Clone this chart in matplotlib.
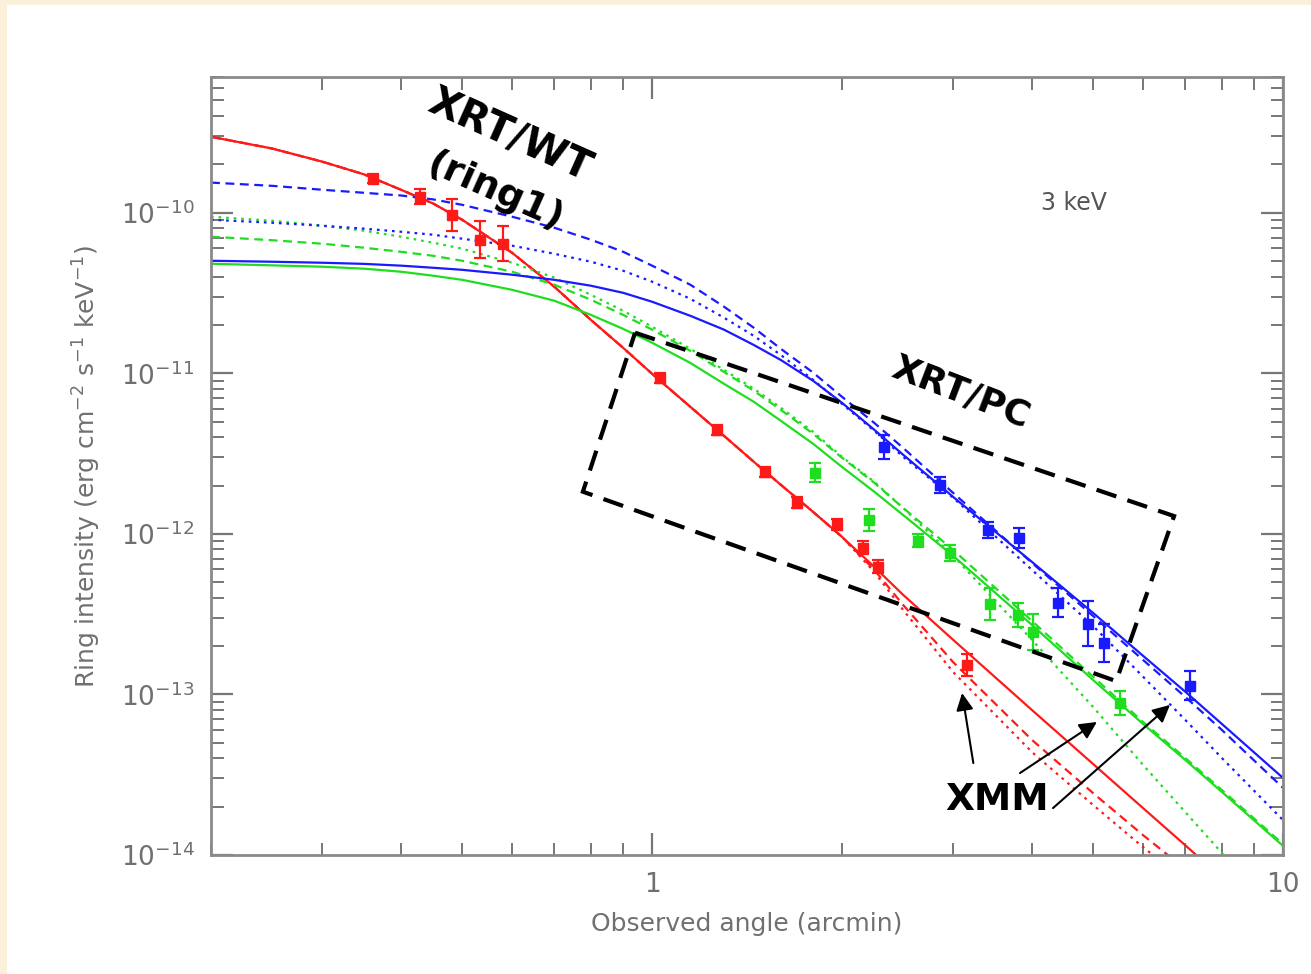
import numpy as np
import matplotlib
matplotlib.use('Agg')
import matplotlib.pyplot as plt
from matplotlib.patches import Polygon, Rectangle
from matplotlib.ticker import LogLocator, NullFormatter, FixedLocator, FixedFormatter

RED = '#ff1a1a'; GREEN = '#1fdd1f'; BLUE = '#1a1aff'
GRAY = '#707070'

# ── model curves ────────────────────────────────────────────────────────────
theta = [0.2, 0.25, 0.3, 0.35, 0.4, 0.45, 0.5, 0.6, 0.7, 0.8, 0.9, 1.0, 1.15,
         1.3, 1.45, 1.6, 1.8, 2.0, 2.25, 2.5, 3.0, 4.0, 5.0, 6.0, 7.0, 8.0, 10.0]

red_solid = [2.97e-10, 2.51e-10, 2.08e-10, 1.73e-10, 1.39e-10, 1.14e-10, 9.04e-11,
             5.63e-11, 3.46e-11, 2.15e-11, 1.44e-11, 9.93e-12, 6.18e-12, 4.08e-12,
             2.81e-12, 2.02e-12, 1.37e-12, 9.58e-13, 6.23e-13, 4.17e-13, 2.19e-13,
             8.0e-14, 3.69e-14, 1.96e-14, 1.15e-14, 7.2e-15, 3.3e-15]
red_dash = [2.97e-10, 2.51e-10, 2.08e-10, 1.73e-10, 1.39e-10, 1.14e-10, 9.04e-11,
            5.63e-11, 3.46e-11, 2.15e-11, 1.44e-11, 9.93e-12, 6.18e-12, 4.08e-12,
            2.81e-12, 2.02e-12, 1.37e-12, 9.58e-13, 5.97e-13, 3.61e-13, 1.59e-13,
            5.21e-14, 2.43e-14, 1.33e-14, 8.18e-15, 5.17e-15, 2.38e-15]
red_dot = [2.97e-10, 2.51e-10, 2.08e-10, 1.73e-10, 1.39e-10, 1.14e-10, 9.04e-11,
           5.63e-11, 3.46e-11, 2.15e-11, 1.44e-11, 9.93e-12, 6.18e-12, 4.08e-12,
           2.81e-12, 2.02e-12, 1.37e-12, 9.58e-13, 5.80e-13, 3.36e-13, 1.38e-13,
           4.38e-14, 2.05e-14, 1.12e-14, 6.89e-15, 4.35e-15, 2.0e-15]

blue_solid = [5.02e-11, 4.95e-11, 4.88e-11, 4.80e-11, 4.68e-11, 4.54e-11, 4.41e-11,
              4.11e-11, 3.82e-11, 3.51e-11, 3.17e-11, 2.79e-11, 2.28e-11, 1.87e-11,
              1.50e-11, 1.21e-11, 8.98e-12, 6.55e-12, 4.45e-12, 3.11e-12, 1.70e-12,
              6.69e-13, 3.22e-13, 1.74e-13, 1.04e-13, 6.55e-14, 3.02e-14]
blue_dash = [1.54e-10, 1.47e-10, 1.39e-10, 1.33e-10, 1.28e-10, 1.21e-10, 1.12e-10,
             9.44e-11, 8.06e-11, 6.79e-11, 5.71e-11, 4.68e-11, 3.56e-11, 2.60e-11,
             1.92e-11, 1.42e-11, 1.01e-11, 7.14e-12, 4.91e-12, 3.43e-12, 1.80e-12,
             6.60e-13, 3.08e-13, 1.64e-13, 9.65e-14, 6.01e-14, 2.62e-14]
blue_dot = [9.04e-11, 8.66e-11, 8.30e-11, 7.95e-11, 7.61e-11, 7.29e-11, 6.89e-11,
            6.23e-11, 5.55e-11, 4.95e-11, 4.35e-11, 3.72e-11, 2.91e-11, 2.22e-11,
            1.71e-11, 1.30e-11, 9.11e-12, 6.45e-12, 4.38e-12, 3.02e-12, 1.68e-12,
            5.97e-13, 2.67e-13, 1.29e-13, 6.94e-14, 4.02e-14, 1.65e-14]

green_solid = [4.81e-11, 4.70e-11, 4.61e-11, 4.48e-11, 4.29e-11, 4.05e-11, 3.82e-11,
               3.31e-11, 2.83e-11, 2.31e-11, 1.89e-11, 1.55e-11, 1.16e-11, 8.60e-12,
               6.64e-12, 5.06e-12, 3.64e-12, 2.61e-12, 1.83e-12, 1.31e-12, 7.30e-13,
               2.71e-13, 1.23e-13, 6.55e-14, 3.91e-14, 2.47e-14, 1.14e-14]
green_dash = [7.09e-11, 6.74e-11, 6.41e-11, 6.05e-11, 5.71e-11, 5.39e-11, 5.02e-11,
              4.29e-11, 3.56e-11, 2.87e-11, 2.31e-11, 1.87e-11, 1.38e-11, 1.02e-11,
              7.78e-12, 5.92e-12, 4.20e-12, 2.98e-12, 2.08e-12, 1.45e-12, 7.95e-13,
              2.87e-13, 1.29e-13, 6.74e-14, 4.02e-14, 2.54e-14, 1.17e-14]
green_dot = [9.44e-11, 8.91e-11, 8.30e-11, 7.72e-11, 7.09e-11, 6.50e-11, 5.97e-11,
             4.88e-11, 3.94e-11, 3.08e-11, 2.45e-11, 1.95e-11, 1.42e-11, 1.05e-11,
             8.01e-12, 6.10e-12, 4.32e-12, 3.02e-12, 2.11e-12, 1.45e-12, 7.30e-13,
             2.19e-13, 8.36e-14, 3.64e-14, 1.85e-14, 1.03e-14, 3.82e-15]

# ── measured ring intensities (errors in dex) ────────────────────────────────
wt_x = [0.361, 0.429, 0.482, 0.534, 0.580]
wt_y = [1.63e-10, 1.26e-10, 9.7e-11, 6.8e-11, 6.4e-11]
wt_err = [0.03, 0.045, 0.10, 0.115, 0.11]

pc_red_x = [1.03, 1.268, 1.51, 1.70, 1.965, 2.16, 2.28]
pc_red_y = [9.37e-12, 4.45e-12, 2.43e-12, 1.56e-12, 1.14e-12, 8.18e-13, 6.23e-13]
pc_red_err = [0.03, 0.03, 0.03, 0.035, 0.035, 0.04, 0.04]

pc_green_x = [1.81, 2.21, 2.64, 2.97, 3.43, 3.80, 4.02]
pc_green_y = [2.40e-12, 1.22e-12, 9.05e-13, 7.61e-13, 3.66e-13, 3.13e-13, 2.45e-13]
pc_green_err = [0.06, 0.07, 0.04, 0.05, 0.10, 0.075, 0.11]

pc_blue_x = [2.33, 2.86, 3.41, 3.82, 4.40, 4.91, 5.20]
pc_blue_y = [3.48e-12, 2.02e-12, 1.06e-12, 9.44e-13, 3.72e-13, 2.75e-13, 2.09e-13]
pc_blue_err = [0.075, 0.05, 0.05, 0.06, 0.09, 0.14, 0.12]

# XMM points: red, green, blue
xmm_x = [3.16, 5.52, 7.12]
xmm_y = [1.53e-13, 8.85e-14, 1.13e-13]
xmm_err = [0.07, 0.075, 0.09]

# annotation geometry (data coords)
box_x = [0.940, 6.72, 5.44, 0.777]
box_y = [1.79e-11, 1.29e-12, 1.21e-13, 1.83e-12]
arrow_tip = [(3.10, 1.02e-13), (5.07, 6.74e-14), (6.62, 8.6e-14)]
arrow_tail = [(3.23, 3.74e-14), (3.83, 3.24e-14), (4.32, 1.96e-14)]

plt.rcParams['font.family'] = 'DejaVu Sans'

fig = plt.figure(figsize=(13.11, 9.74), dpi=100)
fig.patch.set_facecolor('#fbf0da')
fig.add_artist(Rectangle((7/1311, 0), 1, 1 - 5/974, transform=fig.transFigure,
                         facecolor='white', edgecolor='none', zorder=0))
ax = fig.add_axes([211/1311, 119/974, 1072/1311, 778/974])

DASH = (0, (4, 2.5)); DOT = (0, (1.2, 2.2))
lw = 1.6
for col, s, d, o in [(RED, red_solid, red_dash, red_dot),
                     (GREEN, green_solid, green_dash, green_dot),
                     (BLUE, blue_solid, blue_dash, blue_dot)]:
    ax.plot(theta, s, color=col, lw=lw, ls='-')
    ax.plot(theta, d, color=col, lw=lw, ls=DASH)
    ax.plot(theta, o, color=col, lw=lw, ls=DOT)

def points(x, y, e, col):
    x = np.array(x); y = np.array(y); e = np.array(e)
    lo = y - y * 10**(-e); hi = y * 10**e - y
    ax.errorbar(x, y, yerr=[lo, hi], fmt='s', color=col, ms=7, mec=col,
                elinewidth=1.6, capsize=4, capthick=1.6, zorder=5)

points(wt_x, wt_y, wt_err, RED)
points(pc_red_x, pc_red_y, pc_red_err, RED)
points(pc_green_x, pc_green_y, pc_green_err, GREEN)
points(pc_blue_x, pc_blue_y, pc_blue_err, BLUE)
for xx, yy, ee, cc in zip(xmm_x, xmm_y, xmm_err, [RED, GREEN, BLUE]):
    points([xx], [yy], [ee], cc)

ax.set_xscale('log'); ax.set_yscale('log')
ax.set_xlim(0.2, 10)
ax.set_ylim(1e-14, 7e-10)

ax.xaxis.set_major_locator(FixedLocator([1, 10]))
ax.xaxis.set_major_formatter(FixedFormatter(['1', '10']))
ax.xaxis.set_minor_locator(LogLocator(base=10, subs=np.arange(2, 10)))
ax.xaxis.set_minor_formatter(NullFormatter())
ax.yaxis.set_major_locator(FixedLocator([1e-14, 1e-13, 1e-12, 1e-11, 1e-10]))
ax.yaxis.set_major_formatter(FixedFormatter([r'$10^{-14}$', r'$10^{-13}$', r'$10^{-12}$',
                                             r'$10^{-11}$', r'$10^{-10}$']))
ax.yaxis.set_minor_locator(LogLocator(base=10, subs=np.arange(2, 10), numticks=20))
ax.yaxis.set_minor_formatter(NullFormatter())

for sp in ax.spines.values():
    sp.set_color('#8a8a8a'); sp.set_linewidth(2)
ax.tick_params(which='both', direction='in', top=True, right=True,
               color='#777777', labelcolor=GRAY)
ax.tick_params(which='major', length=16, width=1.6, labelsize=19, pad=12)
ax.tick_params(which='minor', length=9, width=1.4)

ax.set_xlabel('Observed angle (arcmin)', fontsize=18, color=GRAY)
ax.xaxis.set_label_coords(0.5, -0.073)
ax.set_ylabel(r'Ring intensity (erg cm$^{-2}$ s$^{-1}$ keV$^{-1}$)',
              fontsize=18, color=GRAY)
ax.yaxis.set_label_coords(-0.101, 0.5)

# dashed box around the XRT/PC data
ax.add_patch(Polygon(list(zip(box_x, box_y)), closed=True, fill=False,
                     ec='black', lw=3, ls=(0, (5, 2.8)), zorder=6))

for tip, tail in zip(arrow_tip, arrow_tail):
    ax.annotate('', xy=tip, xytext=tail,
                arrowprops=dict(arrowstyle='-|>', color='black', lw=1.5,
                                mutation_scale=26, shrinkA=0, shrinkB=0),
                zorder=7)

tkw = dict(transform=ax.transAxes, ha='center', va='center',
           fontweight='bold', color='black', zorder=8)
ax.text(0.279, 0.925, 'XRT/WT', fontsize=29, rotation=-24, **tkw)
ax.text(0.265, 0.852, '(ring1)', fontsize=27, rotation=-24, **tkw)
ax.text(0.699, 0.595, 'XRT/PC', fontsize=26, rotation=-21, **tkw)
ax.text(0.733, 0.071, 'XMM', fontsize=27, **tkw)
ax.text(0.805, 0.838, '3 keV', fontsize=17, color='#555555',
        transform=ax.transAxes, ha='center', va='center')

fig.savefig('out.png', dpi=100, facecolor=fig.get_facecolor())
